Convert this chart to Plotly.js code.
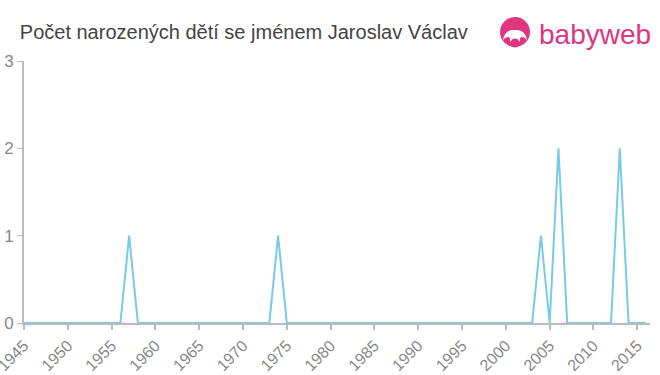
<!DOCTYPE html>
<html>
<head>
<meta charset="utf-8">
<script src="https://cdn.plot.ly/plotly-3.0.1.min.js"></script>
<style>html,body{margin:0;padding:0;background:#fff}#chart{width:660px;height:375px}</style>
</head>
<body>
<div id="chart"></div>
<script>
const years = [1945, 1956, 1957, 1958, 1973, 1974, 1975, 2003, 2004, 2005, 2006, 2007, 2012, 2013, 2014, 2016];
const counts = [0, 0, 1, 0, 0, 1, 0, 0, 1, 0, 2, 0, 0, 2, 0, 0];
const xTicks = [1945, 1950, 1955, 1960, 1965, 1970, 1975, 1980, 1985, 1990, 1995, 2000, 2005, 2010, 2015];
const yTicks = [0, 1, 2, 3];
const titleText = "Počet narozených dětí se jménem Jaroslav Václav";
const logoText = "babyweb";

const pink = "#e0367f";
const trace = {
  x: years, y: counts, type: "scatter", mode: "lines",
  line: {color: "#76cbe9", width: 2}, hoverinfo: "skip"
};
const layout = {
  width: 660, height: 375,
  margin: {l: 24, r: 10, t: 61, b: 52},
  paper_bgcolor: "#fff", plot_bgcolor: "#fff",
  showlegend: false,
  title: {text: titleText, x: 0.03, xanchor: "left", y: 0.915, yanchor: "middle",
    font: {family: "Liberation Sans, Arial, sans-serif", size: 20, color: "#444"}},
  xaxis: {
    range: [1945, 2016.45], tickvals: xTicks, ticktext: xTicks.map(String),
    tickangle: -45, ticks: "outside", ticklen: 5, tickwidth: 2, tickcolor: "#bbb",
    ticklabeloverflow: "allow",
    showline: true, linecolor: "#bbb", linewidth: 2, showgrid: false, zeroline: false,
    tickfont: {family: "Liberation Sans, Arial, sans-serif", size: 16, color: "#888"},
    fixedrange: true
  },
  yaxis: {
    range: [0, 3], tickvals: yTicks, ticks: "outside", ticklen: 5, tickwidth: 1, tickcolor: "#bbb",
    showline: true, linecolor: "#bbb", linewidth: 2, showgrid: false, zeroline: false,
    tickfont: {family: "Liberation Sans, Arial, sans-serif", size: 17, color: "#888"},
    fixedrange: true
  },
  annotations: [
    {text: logoText, xref: "paper", yref: "paper", x: 1.005, y: 1.1, xanchor: "right", yanchor: "middle",
      showarrow: false, font: {family: "Liberation Sans, Arial, sans-serif", size: 28, color: pink}}
  ]
};
Plotly.newPlot("chart", [trace], layout, {displayModeBar: false, staticPlot: true}).then(function(){
  const svgs = document.querySelectorAll("#chart .main-svg");
  const svg = svgs[svgs.length - 1];
  const ns = "http://www.w3.org/2000/svg";
  const g = document.createElementNS(ns, "g");
  g.innerHTML =
    '<circle cx="515" cy="32" r="15" fill="' + pink + '"/>' +
    '<path d="M503,40 Q505,29 515,30 Q525,29 527,40 Q523,35 520,38 L520,41 Q515,46 510,41 L510,38 Q507,35 503,40 Z" fill="#fff"/>' +
    '<circle cx="515" cy="43" r="4.5" fill="' + pink + '"/>';
  svg.appendChild(g);
});
</script>
</body>
</html>
